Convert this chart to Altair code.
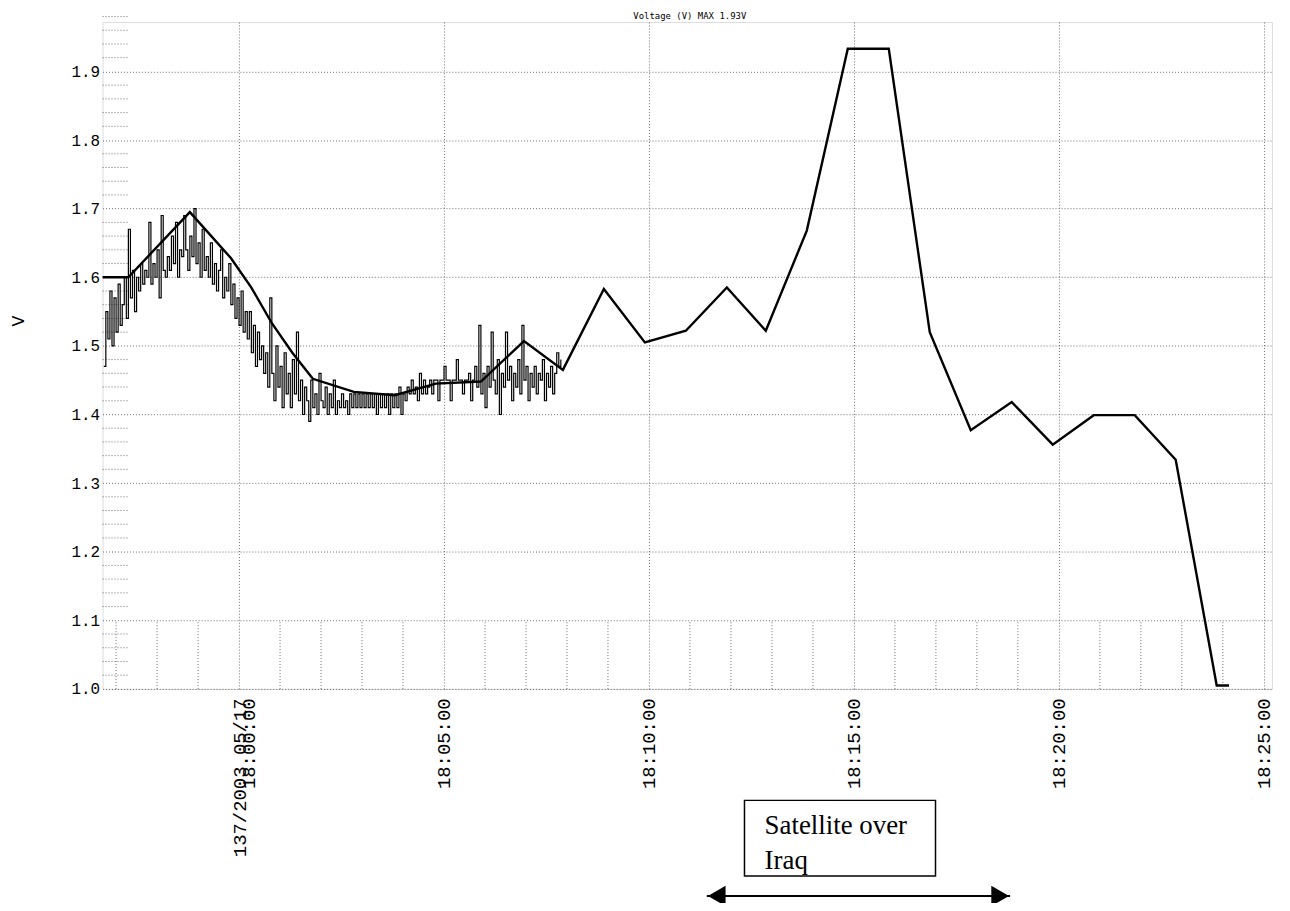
import altair as alt
import pandas as pd

# ---------------- data (time in minutes after 18:00:00, values in V) ----------------
noisy_start = -3.30
noisy_step = 0.05
noisy_v = [
    1.47, 1.55, 1.51, 1.58, 1.50, 1.57, 1.52, 1.59, 1.53, 1.56,
    1.60, 1.54, 1.67, 1.57, 1.61, 1.55, 1.60, 1.58, 1.62, 1.59,
    1.61, 1.60, 1.68, 1.59, 1.62, 1.60, 1.64, 1.57, 1.69, 1.61,
    1.60, 1.63, 1.61, 1.66, 1.62, 1.68, 1.60, 1.64, 1.63, 1.69,
    1.64, 1.61, 1.66, 1.63, 1.70, 1.62, 1.65, 1.60, 1.67, 1.61,
    1.63, 1.60, 1.65, 1.59, 1.62, 1.58, 1.61, 1.64, 1.57, 1.60,
    1.58, 1.62, 1.56, 1.59, 1.54, 1.57, 1.53, 1.58, 1.52, 1.55,
    1.51, 1.55, 1.49, 1.53, 1.47, 1.52, 1.48, 1.50, 1.46, 1.49,
    1.44, 1.57, 1.46, 1.42, 1.50, 1.44, 1.47, 1.41, 1.49, 1.43,
    1.46, 1.41, 1.48, 1.43, 1.52, 1.42, 1.45, 1.40, 1.44, 1.42,
    1.39, 1.45, 1.41, 1.43, 1.40, 1.46, 1.42, 1.41, 1.44, 1.40,
    1.43, 1.41, 1.45, 1.40, 1.42, 1.41, 1.43, 1.41, 1.42, 1.40,
    1.43, 1.41, 1.43, 1.41, 1.43, 1.41, 1.43, 1.41, 1.43, 1.41,
    1.43, 1.41, 1.43, 1.40, 1.43, 1.41, 1.43, 1.41, 1.43, 1.40,
    1.43, 1.41, 1.43, 1.41, 1.44, 1.40, 1.43, 1.42, 1.44, 1.43,
    1.45, 1.43, 1.44, 1.42, 1.46, 1.43, 1.45, 1.43, 1.44, 1.45,
    1.43, 1.45, 1.45, 1.42, 1.45, 1.45, 1.47, 1.45, 1.45, 1.42,
    1.45, 1.45, 1.48, 1.45, 1.45, 1.43, 1.45, 1.45, 1.46, 1.42,
    1.45, 1.47, 1.44, 1.53, 1.43, 1.46, 1.41, 1.47, 1.44, 1.52,
    1.45, 1.43, 1.48, 1.40, 1.46, 1.44, 1.52, 1.45, 1.47, 1.42,
    1.46, 1.44, 1.48, 1.43, 1.53, 1.45, 1.47, 1.42, 1.46, 1.44,
    1.47, 1.43, 1.46, 1.45, 1.48, 1.42, 1.46, 1.44, 1.47, 1.43,
    1.46, 1.49, 1.47, 1.48,
]

smooth_t = [-3.33, -2.7, -1.2, -0.2, 0.3, 0.8, 1.3, 1.8, 2.8, 3.8, 4.8, 5.9,
            6.95, 7.9, 8.9, 9.9, 10.9, 11.9, 12.85, 13.85, 14.85, 15.85,
            16.85, 17.85, 18.85, 19.85, 20.85, 21.85, 22.85, 23.85, 24.15]
smooth_v = [1.60, 1.60, 1.695, 1.628, 1.585, 1.533, 1.49, 1.452, 1.433, 1.428,
            1.445, 1.448, 1.507, 1.465, 1.583, 1.505, 1.522, 1.585, 1.522, 1.668,
            1.933, 1.933, 1.520, 1.377, 1.418, 1.356, 1.399, 1.399, 1.334, 1.005,
            1.005]

x_ticks = [0, 5, 10, 15, 20, 25]
y_ticks = [1.0, 1.1, 1.2, 1.3, 1.4, 1.5, 1.6, 1.7, 1.8, 1.9]
date_label = "137/2003 05/17"
title_text = "Voltage (V) MAX 1.93V"

annot_lines = ["Satellite over", "Iraq"]
annot_box_t = [12.33, 16.99]
annot_text_t = [12.82]
arrow_t = [11.41, 18.81]

# minor grid (axis styling): every 0.02 V and every minute
minor_y = [round(1.0 + 0.02 * i, 2) for i in range(50) if i % 5 != 0]
minor_x = [m for m in range(-3, 26) if m % 5 != 0]

# ---------------- tables ----------------
noisy_df = pd.DataFrame({"t": [noisy_start + i * noisy_step for i in range(len(noisy_v))],
                         "v": noisy_v})
smooth_df = pd.DataFrame({"t": smooth_t, "v": smooth_v})
minor_y_df = pd.DataFrame({"v": minor_y})
minor_x_df = pd.DataFrame({"t": minor_x, "v": [1.0] * len(minor_x), "v2": [1.1] * len(minor_x)})
box_df = pd.DataFrame({"t": [annot_box_t[0]], "t2": [annot_box_t[1]]})
text_df = pd.DataFrame({"t": annot_text_t})
arrow_df = pd.DataFrame({"t": [arrow_t[0]], "t2": [arrow_t[1]]})
arrow_l_df = pd.DataFrame({"t": [arrow_t[0]]})
arrow_r_df = pd.DataFrame({"t": [arrow_t[1]]})
title_df = pd.DataFrame({"label": [title_text]})

xs = alt.Scale(domain=[-3.33, 25.2], nice=False, zero=False)
ys = alt.Scale(domain=[1.0, 1.972], nice=False, zero=False)

label_expr = ("datum.value == 0 ? ['" + date_label + "', '18:00:00'] : "
              "'18:' + (datum.value < 10 ? '0' : '') + datum.value + ':00'")

GRID = dict(grid=True, gridDash=[1, 2], gridColor="#4a4a4a", gridWidth=0.8,
            ticks=False, domain=False, labelColor="black",
            labelFont="Liberation Mono", labelOverlap=False,
            labelFlush=False, labelBound=False)

x_enc = alt.X("t:Q", scale=xs,
              axis=alt.Axis(values=x_ticks, labelExpr=label_expr, labelAngle=270,
                            labelFontSize=19, labelPadding=9, labelLineHeight=10,
                            title=None, **GRID))
y_enc = alt.Y("v:Q", scale=ys,
              axis=alt.Axis(values=y_ticks, format=".1f", labelPadding=3, labelFontSize=16,
                            title="V", titleFont="DejaVu Sans", titleFontSize=16,
                            titleFontWeight="normal", titleColor="black",
                            titleX=-76, titleY=300, **GRID))

minor_h = alt.Chart(minor_y_df).mark_rule(strokeDash=[1, 2], color="#4a4a4a",
                                          strokeWidth=0.8).encode(
    y=y_enc, x=alt.value(0), x2=alt.value(25))
minor_v = alt.Chart(minor_x_df).mark_rule(strokeDash=[1, 2], color="#4a4a4a",
                                          strokeWidth=0.8).encode(
    x=x_enc, y=y_enc, y2="v2:Q")

noisy = alt.Chart(noisy_df).mark_line(interpolate="step-after", color="black",
                                      strokeWidth=1.2).encode(x=x_enc, y=y_enc)
smooth = alt.Chart(smooth_df).mark_line(color="black", strokeWidth=2.4).encode(
    x=x_enc, y=y_enc)

# title text just above the plot frame (plot top is at page y = 20)
title = alt.Chart(title_df).mark_text(font="DejaVu Sans Mono", fontSize=9, align="center",
                                      baseline="bottom", color="black").encode(
    text="label:N", x=alt.value(590), y=alt.value(-1))

box = alt.Chart(box_df).mark_rect(fill="white", stroke="black", strokeWidth=1.5).encode(
    x=x_enc, x2="t2:Q", y=alt.value(782), y2=alt.value(858))
text = alt.Chart(text_df).mark_text(text=annot_lines, align="left", baseline="alphabetic",
                                    font="Liberation Serif", fontSize=27, lineHeight=35,
                                    color="black").encode(x=x_enc, y=alt.value(816))
arrow = alt.Chart(arrow_df).mark_rule(color="black", strokeWidth=2).encode(
    x=x_enc, x2="t2:Q", y=alt.value(878))
head_l = alt.Chart(arrow_l_df).mark_point(shape="triangle-left", filled=True, color="black",
                                          opacity=1, size=420, xOffset=10).encode(
    x=x_enc, y=alt.value(878))
head_r = alt.Chart(arrow_r_df).mark_point(shape="triangle-right", filled=True, color="black",
                                          opacity=1, size=420, xOffset=-10).encode(
    x=x_enc, y=alt.value(878))

chart = alt.layer(minor_h, minor_v, noisy, smooth, title, box, text, arrow, head_l,
                  head_r).properties(
    width=1175, height=670,
    autosize=alt.AutoSizeParams(type="none"),
    padding={"left": 95, "top": 12, "right": 10, "bottom": 213},
).configure_view(stroke="#333", strokeDash=[1, 2], strokeWidth=1
).configure(background="white")

chart.save("out.html", embed_options={"renderer": "svg", "actions": False})
